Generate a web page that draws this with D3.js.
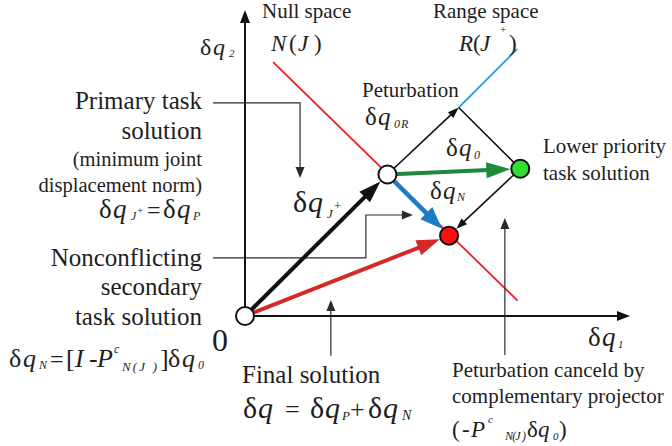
<!DOCTYPE html>
<html>
<head>
<meta charset="utf-8">
<script src="https://cdn.jsdelivr.net/npm/d3@7"></script>
<style>
  html, body { margin: 0; background: #fff; }
  svg { display: block; }
  text { font-family: "Liberation Serif", "Times New Roman", serif; fill: #1e1e1e; }
</style>
</head>
<body>
<svg id="chart" width="672" height="446"></svg>
<script>
// ---- joint-space geometry (δq1, δq2) ----
const xDomain = [0, 10];
const yDomain = [0, 8];
const origin = [0, 0];
const primarySolution = [3.7, 3.7];     // δq_P = δq_J+
const rangeTip = [5.55, 5.45];          // end of perturbation δq_0R
const lowerPriority = [7.15, 3.85];     // δq_P + δq_0
const finalSolution = [5.3, 2.1];       // δq = δq_P + δq_N
const nullSpaceLine = [[0.73, 6.64], [7.08, 0.4]];
const rangeSpaceLine = [[5.55, 5.45], [7.07, 6.98]];

// leader lines for the annotations
const leaderPrimary = [[-0.83, 5.57], [1.43, 5.57], [1.43, 3.61]];
const leaderSecondary = [[-0.83, 1.52], [3.14, 1.52], [3.14, 2.64], [4.36, 2.64]];
const leaderFinal = [[2.23, -1.04], [2.23, 0.42]];
const leaderCancel = [[6.75, -1.02], [6.75, 2.56]];

const svg = d3.select("#chart");
const x = d3.scaleLinear().domain(xDomain).range([245, 630]);
const y = d3.scaleLinear().domain(yDomain).range([316, 10]);
const px = d => [x(d[0]), y(d[1])];

// straight arrow from a to b (data coords), tip pulled back by `trim` px
function arrow(a, b, o) {
  const p0 = px(a), p1 = px(b);
  const dx = p1[0] - p0[0], dy = p1[1] - p0[1];
  const len = Math.hypot(dx, dy), ux = dx / len, uy = dy / len;
  const tip = [p1[0] - ux * (o.trim || 0), p1[1] - uy * (o.trim || 0)];
  const base = [tip[0] - ux * o.head, tip[1] - uy * o.head];
  const nx = -uy, ny = ux, hw = o.headW / 2;
  svg.append("line")
    .attr("x1", p0[0]).attr("y1", p0[1])
    .attr("x2", base[0] + ux * 2).attr("y2", base[1] + uy * 2)
    .attr("stroke", o.color).attr("stroke-width", o.width);
  svg.append("path")
    .attr("d", d3.line()([tip, [base[0] + nx * hw, base[1] + ny * hw], [base[0] - nx * hw, base[1] - ny * hw]]) + "Z")
    .attr("fill", o.color);
}

// polyline leader with arrowhead at its last point
function leader(pts, o) {
  const p = pts.map(px);
  const n = p.length;
  const a = p[n - 2], b = p[n - 1];
  const dx = b[0] - a[0], dy = b[1] - a[1];
  const len = Math.hypot(dx, dy), ux = dx / len, uy = dy / len;
  const base = [b[0] - ux * o.head, b[1] - uy * o.head];
  const body = p.slice(0, n - 1).concat([[base[0] + ux, base[1] + uy]]);
  svg.append("path").attr("d", d3.line()(body))
    .attr("fill", "none").attr("stroke", o.color).attr("stroke-width", o.width);
  const nx = -uy, ny = ux, hw = o.headW / 2;
  svg.append("path")
    .attr("d", d3.line()([b, [base[0] + nx * hw, base[1] + ny * hw], [base[0] - nx * hw, base[1] - ny * hw]]) + "Z")
    .attr("fill", o.color);
}

// ---- axes ----
leader([origin, [xDomain[1], 0]], { color: "#111", width: 2, head: 13, headW: 10 });
leader([origin, [0, yDomain[1]]], { color: "#111", width: 2, head: 13, headW: 10 });

// ---- subspaces ----
svg.append("path").attr("d", d3.line()(nullSpaceLine.map(px)))
  .attr("stroke", "#ee1c24").attr("stroke-width", 1.8).attr("fill", "none");
svg.append("path").attr("d", d3.line()(rangeSpaceLine.map(px)))
  .attr("stroke", "#1c9be0").attr("stroke-width", 1.8).attr("fill", "none");

// ---- annotation leaders ----
const thin = { color: "#2a2a2a", width: 1.2, head: 11, headW: 9 };
leader(leaderPrimary, thin);
leader(leaderSecondary, thin);
leader(leaderFinal, thin);
leader(leaderCancel, thin);

// ---- perturbation and projection ----
arrow(primarySolution, rangeTip, { color: "#111", width: 1.6, head: 11, headW: 8 });
svg.append("line")
  .attr("x1", x(rangeTip[0])).attr("y1", y(rangeTip[1]))
  .attr("x2", x(lowerPriority[0])).attr("y2", y(lowerPriority[1]))
  .attr("stroke", "#111").attr("stroke-width", 1.6);
arrow(lowerPriority, finalSolution, { color: "#111", width: 1.6, head: 11, headW: 8, trim: 10 });

// ---- solution vectors ----
arrow(origin, finalSolution, { color: "#d42a26", width: 4, head: 23, headW: 16, trim: 10 });
arrow(origin, primarySolution, { color: "#111", width: 4, head: 22, headW: 15, trim: 10 });
arrow(primarySolution, lowerPriority, { color: "#1e8a3c", width: 4, head: 24, headW: 16, trim: 10 });
arrow(primarySolution, finalSolution, { color: "#1a7cc4", width: 4.5, head: 22, headW: 17, trim: 10 });

// ---- solution points ----
const points = [
  { p: origin, fill: "#fff" },
  { p: primarySolution, fill: "#fff" },
  { p: lowerPriority, fill: "#2fe02f" },
  { p: finalSolution, fill: "#ff1010" }
];
svg.selectAll("circle.pt").data(points).join("circle")
  .attr("class", "pt")
  .attr("cx", d => x(d.p[0])).attr("cy", d => y(d.p[1])).attr("r", 9)
  .attr("fill", d => d.fill).attr("stroke", "#111").attr("stroke-width", 2);

// ---- text ----
function rich(parts) {
  const t = svg.append("text");
  parts.forEach(p => {
    const s = t.append("tspan").attr("x", p.x).attr("y", p.y)
      .attr("font-size", p.s).attr("font-style", p.it ? "italic" : null).text(p.t);
    if (p.len) s.attr("textLength", p.len).attr("lengthAdjust", "spacing");
  });
}
function plain(str, xx, yy, size, anchor) {
  svg.append("text").attr("x", xx).attr("y", yy).attr("font-size", size)
    .attr("text-anchor", anchor || "start").text(str);
}

// left column
plain("Primary task", 202, 109, 25, "end");
plain("solution", 202, 139, 25, "end");
plain("(minimum joint", 202, 166, 20.5, "end");
plain("displacement norm)", 202, 192, 20.5, "end");
rich([
  { t: "δ", x: 99, y: 218, s: 27 }, { t: "q", x: 113, y: 218, s: 27, it: 1 },
  { t: "J", x: 131, y: 220, s: 12, it: 1 }, { t: "+", x: 137, y: 214, s: 11 },
  { t: "=", x: 147, y: 218, s: 24 },
  { t: "δ", x: 163, y: 218, s: 27 }, { t: "q", x: 177, y: 218, s: 27, it: 1 },
  { t: "P", x: 193, y: 220, s: 12, it: 1 }
]);
plain("Nonconflicting", 202, 266, 25, "end");
plain("secondary", 202, 295, 25, "end");
plain("task solution", 202, 325, 25, "end");
rich([
  { t: "δ", x: 9, y: 367, s: 26 }, { t: "q", x: 23, y: 367, s: 26, it: 1 },
  { t: "N", x: 39, y: 369, s: 12, it: 1 },
  { t: "=", x: 50, y: 367, s: 24 },
  { t: "[", x: 66, y: 367, s: 26 }, { t: "I", x: 75, y: 367, s: 26, it: 1 },
  { t: "-", x: 89, y: 367, s: 26 }, { t: "P", x: 97, y: 367, s: 26, it: 1 },
  { t: "c", x: 114, y: 353, s: 12, it: 1 },
  { t: "N(J )", x: 122, y: 371, s: 13, it: 1, len: 35 },
  { t: "]", x: 160, y: 367, s: 26 },
  { t: "δ", x: 168, y: 367, s: 26 }, { t: "q", x: 182, y: 367, s: 26, it: 1 },
  { t: "0", x: 198, y: 369, s: 12, it: 1 }
]);
plain("0", 212, 351, 32);

// axis titles
rich([
  { t: "δ", x: 200, y: 55, s: 24 }, { t: "q", x: 213, y: 55, s: 24, it: 1 },
  { t: "2", x: 229, y: 57, s: 11, it: 1 }
]);
rich([
  { t: "δ", x: 588, y: 346, s: 27 }, { t: "q", x: 602, y: 346, s: 27, it: 1 },
  { t: "1", x: 618, y: 348, s: 11, it: 1 }
]);

// subspace labels
plain("Null space", 262, 18, 21);
rich([
  { t: "N", x: 271, y: 51, s: 23, it: 1 }, { t: "(", x: 289, y: 51, s: 23 },
  { t: "J", x: 298, y: 51, s: 23, it: 1 }, { t: ")", x: 314, y: 51, s: 23 }
]);
plain("Range space", 433, 18, 21);
rich([
  { t: "R", x: 459, y: 51, s: 23, it: 1 }, { t: "(", x: 473, y: 51, s: 23 },
  { t: "J", x: 480, y: 51, s: 23, it: 1 }, { t: "+", x: 500, y: 33, s: 11 },
  { t: ")", x: 509, y: 51, s: 23 }
]);

// vector labels
plain("Peturbation", 362, 97, 21);
rich([
  { t: "δ", x: 365, y: 125, s: 25 }, { t: "q", x: 378, y: 125, s: 25, it: 1 },
  { t: "0", x: 394, y: 128, s: 12, it: 1 }, { t: "R", x: 401, y: 128, s: 12, it: 1 }
]);
rich([
  { t: "δ", x: 446, y: 156, s: 25 }, { t: "q", x: 459, y: 156, s: 25, it: 1 },
  { t: "0", x: 474, y: 159, s: 12, it: 1 }
]);
rich([
  { t: "δ", x: 430, y: 199, s: 25 }, { t: "q", x: 443, y: 199, s: 25, it: 1 },
  { t: "N", x: 457, y: 201, s: 12, it: 1 }
]);
rich([
  { t: "δ", x: 293, y: 212, s: 30 }, { t: "q", x: 308, y: 212, s: 30, it: 1 },
  { t: "J", x: 327, y: 218, s: 13, it: 1 }, { t: "+", x: 334, y: 210, s: 13 }
]);
plain("Lower priority", 543, 153, 21);
plain("task solution", 543, 180, 21);

// bottom notes
plain("Final solution", 242, 383, 25);
rich([
  { t: "δ", x: 243, y: 418, s: 30 }, { t: "q", x: 258, y: 418, s: 30, it: 1 },
  { t: "=", x: 285, y: 418, s: 26 },
  { t: "δ", x: 310, y: 418, s: 30 }, { t: "q", x: 325, y: 418, s: 30, it: 1 },
  { t: "P", x: 342, y: 420, s: 13, it: 1 },
  { t: "+", x: 350, y: 418, s: 26 },
  { t: "δ", x: 368, y: 418, s: 30 }, { t: "q", x: 383, y: 418, s: 30, it: 1 },
  { t: "N", x: 402, y: 420, s: 14, it: 1 }
]);
plain("Peturbation canceld by", 452, 377, 21);
plain("complementary projector", 452, 403, 21);
rich([
  { t: "(", x: 452, y: 437, s: 23 }, { t: "-", x: 462, y: 437, s: 23 },
  { t: "P", x: 471, y: 437, s: 23, it: 1 }, { t: "c", x: 488, y: 423, s: 11, it: 1 },
  { t: "N(J )", x: 505, y: 440, s: 12, it: 1, len: 21 },
  { t: "δ", x: 527, y: 437, s: 23 }, { t: "q", x: 538, y: 437, s: 23, it: 1 },
  { t: "0", x: 553, y: 440, s: 11, it: 1 }, { t: ")", x: 559, y: 437, s: 23 }
]);
</script>
</body>
</html>
